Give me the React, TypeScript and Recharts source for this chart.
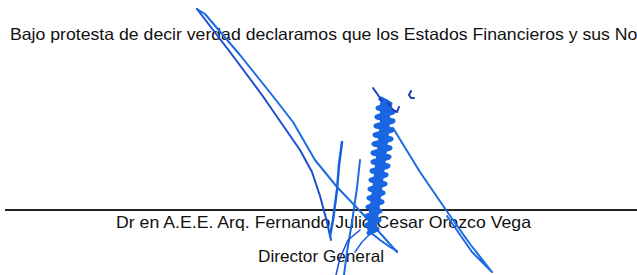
import React from "react";
import {
  LineChart,
  Line,
  XAxis,
  YAxis,
  ReferenceLine,
  Customized,
} from "recharts";

// page text
const headerText =
  "Bajo protesta de decir verdad declaramos que los Estados Financieros y sus Notas";
const signerName = "Dr en A.E.E. Arq. Fernando Julio Cesar Orozco Vega";
const signerTitle = "Director General";

// signature strokes, in page pixels (y grows downward)
const loopLeft = [
  { x: 331, y: 240 },
  { x: 327, y: 222 },
  { x: 320, y: 196 },
  { x: 312, y: 172 },
  { x: 300, y: 150 },
  { x: 282, y: 124 },
  { x: 262, y: 95 },
  { x: 230, y: 52 },
  { x: 197, y: 9 },
];
const loopRight = [
  { x: 197, y: 9 },
  { x: 205, y: 14 },
  { x: 240, y: 55 },
  { x: 272, y: 95 },
  { x: 293, y: 122 },
  { x: 315, y: 160 },
  { x: 337, y: 187 },
  { x: 360, y: 211 },
  { x: 380, y: 233 },
  { x: 397, y: 252 },
];
const stemA = [
  { x: 342, y: 142 },
  { x: 339, y: 165 },
  { x: 337, y: 190 },
  { x: 333, y: 220 },
  { x: 330, y: 236 },
];
const stemB = [
  { x: 360, y: 160 },
  { x: 357, y: 188 },
  { x: 352, y: 222 },
  { x: 347, y: 252 },
  { x: 344, y: 275 },
];
const stemC = [
  { x: 336, y: 275 },
  { x: 340, y: 258 },
  { x: 348, y: 240 },
  { x: 360, y: 230 },
];
const columnCore = [
  { x: 385, y: 104 },
  { x: 385, y: 122 },
  { x: 383, y: 142 },
  { x: 380, y: 166 },
  { x: 377, y: 190 },
  { x: 374, y: 212 },
  { x: 372, y: 228 },
];
const column = [
  { x: 381, y: 99 }, { x: 390, y: 104 }, { x: 378, y: 108 }, { x: 393, y: 112 },
  { x: 377, y: 117 }, { x: 393, y: 121 }, { x: 376, y: 126 }, { x: 392, y: 130 },
  { x: 375, y: 135 }, { x: 391, y: 139 }, { x: 374, y: 144 }, { x: 390, y: 148 },
  { x: 373, y: 153 }, { x: 389, y: 157 }, { x: 373, y: 162 }, { x: 388, y: 166 },
  { x: 372, y: 171 }, { x: 386, y: 175 }, { x: 371, y: 180 }, { x: 385, y: 184 },
  { x: 370, y: 189 }, { x: 383, y: 193 }, { x: 369, y: 198 }, { x: 382, y: 202 },
  { x: 368, y: 207 }, { x: 380, y: 211 }, { x: 367, y: 216 }, { x: 379, y: 220 },
  { x: 367, y: 225 }, { x: 377, y: 229 }, { x: 369, y: 233 },
];
const tick = [
  { x: 373, y: 88 },
  { x: 378, y: 95 },
  { x: 382, y: 101 },
];
const hook = [
  { x: 388, y: 103 },
  { x: 393, y: 110 },
  { x: 397, y: 112 },
  { x: 399, y: 107 },
];
const dash = [
  { x: 411, y: 91 },
  { x: 409, y: 95 },
  { x: 411, y: 98 },
  { x: 414, y: 98 },
];
const tail = [
  { x: 393, y: 128 },
  { x: 420, y: 172 },
  { x: 446, y: 210 },
  { x: 470, y: 244 },
  { x: 492, y: 272 },
  { x: 472, y: 252 },
  { x: 447, y: 216 },
];
const swoosh = [
  { x: 370, y: 232 },
  { x: 380, y: 240 },
  { x: 390, y: 247 },
  { x: 397, y: 251 },
];
const splitLeft = [
  { x: 372, y: 232 },
  { x: 362, y: 242 },
  { x: 355, y: 252 },
];

const strokes = [
  { id: "loopLeft", data: loopLeft, color: "#1f4fd0", w: 2 },
  { id: "loopRight", data: loopRight, color: "#1a6ce0", w: 2 },
  { id: "stemA", data: stemA, color: "#1560dc", w: 2.5 },
  { id: "stemB", data: stemB, color: "#1a6ce0", w: 2 },
  { id: "stemC", data: stemC, color: "#1f4fd0", w: 1.5 },
  { id: "columnCore", data: columnCore, color: "#1a66e2", w: 10 },
  { id: "column", data: column, color: "#1a66e2", w: 5 },
  { id: "tick", data: tick, color: "#1d3fb8", w: 2 },
  { id: "hook", data: hook, color: "#1d3fb8", w: 2 },
  { id: "dash", data: dash, color: "#1d3fb8", w: 2 },
  { id: "tail", data: tail, color: "#1a6ce0", w: 2 },
  { id: "swoosh", data: swoosh, color: "#1a66e2", w: 2 },
  { id: "splitLeft", data: splitLeft, color: "#1a66e2", w: 1.5 },
];

const PageText = () => (
  <g fontFamily="'Liberation Sans', Arial, sans-serif" fontSize={16.5} fill="#111">
    <text x={10} y={40} textLength={651} lengthAdjust="spacingAndGlyphs">
      {headerText}
    </text>
    <text x={116} y={228} textLength={415} lengthAdjust="spacingAndGlyphs">
      {signerName}
    </text>
    <text x={258} y={262} textLength={126} lengthAdjust="spacingAndGlyphs">
      {signerTitle}
    </text>
  </g>
);

export default function App() {
  return (
    <div
      style={{
        position: "absolute",
        left: 0,
        top: 0,
        width: 637,
        height: 275,
        overflow: "hidden",
        background: "#fff",
      }}
    >
      <LineChart
        width={637}
        height={275}
        margin={{ top: 0, right: 0, bottom: 0, left: 0 }}
      >
        <XAxis type="number" dataKey="x" domain={[0, 637]} hide allowDataOverflow />
        <YAxis type="number" dataKey="y" domain={[0, 275]} reversed hide allowDataOverflow />
        <Customized component={PageText} />
        <ReferenceLine
          segment={[
            { x: 5, y: 210 },
            { x: 637, y: 210 },
          ]}
          stroke="#222"
          strokeWidth={2}
        />
        {strokes.map((s) => (
          <Line
            key={s.id}
            data={s.data}
            dataKey="y"
            type="linear"
            stroke={s.color}
            strokeWidth={s.w}
            strokeLinejoin="round"
            strokeLinecap="round"
            dot={false}
            activeDot={false}
            isAnimationActive={false}
          />
        ))}
      </LineChart>
    </div>
  );
}
